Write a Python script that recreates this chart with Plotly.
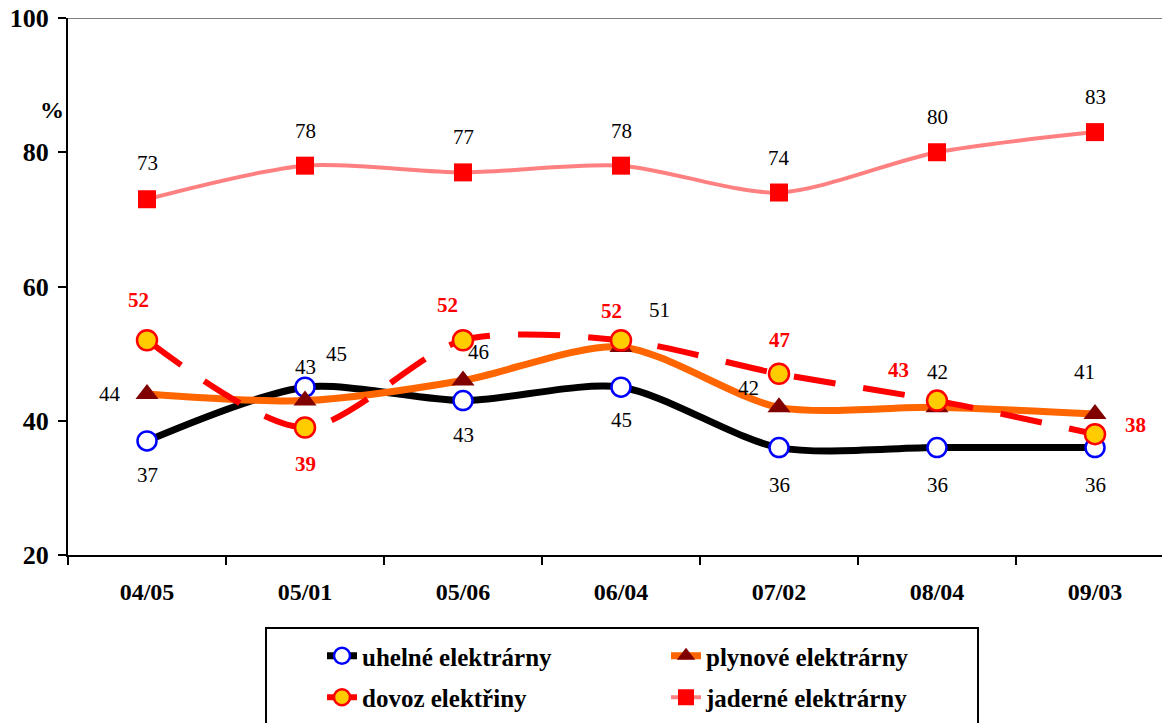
import plotly.graph_objects as go

categories = ["04/05", "05/01", "05/06", "06/04", "07/02", "08/04", "09/03"]
uhelne = [37, 45, 43, 45, 36, 36, 36]
plynove = [44, 43, 46, 51, 42, 42, 41]
dovoz = [52, 39, 52, 52, 47, 43, 38]
jaderne = [73, 78, 77, 78, 74, 80, 83]
y_ticks = [20, 40, 60, 80, 100]

# label offsets (px) for each point: (xshift, yshift)
off_uhelne = [(0, -34), (31, 33), (0, -34), (0, -33), (0, -37), (0, -37), (0, -37)]
off_plynove = [(-37, 0), (0, 34), (15, 28), (38, 37), (-31, 19), (0, 35), (-11, 42)]
off_dovoz = [(-9, 40), (0, -37), (-16, 35), (-10, 29), (0, 34), (-39, 31), (40, 9)]
off_jaderne = [(0, 36), (0, 35), (0, 35), (0, 35), (0, 35), (0, 35), (0, 35)]

FONT = "Times New Roman, Liberation Serif, serif"

fig = go.Figure()

fig.add_trace(go.Scatter(
    x=categories, y=uhelne, name="uhelné elektrárny", mode="lines+markers",
    line=dict(color="#000000", width=7, shape="spline", smoothing=0.8),
    marker=dict(symbol="circle", size=19, color="#FFFFFF", line=dict(color="#0000FF", width=2.5)),
    legend="legend", legendgroup="a"))
fig.add_trace(go.Scatter(
    x=categories, y=plynove, name="plynové elektrárny", mode="lines+markers",
    line=dict(color="#FF6600", width=7, shape="spline", smoothing=0.8),
    marker=dict(symbol="triangle-up", size=20, color="#800000", line=dict(width=0)),
    legend="legend2", legendgroup="b"))
fig.add_trace(go.Scatter(
    x=categories, y=dovoz, name="dovoz elektřiny", mode="lines+markers",
    line=dict(color="#FF0000", width=6, shape="spline", smoothing=0.8, dash="42px,28px"),
    marker=dict(symbol="circle", size=20, color="#FFCC00", line=dict(color="#FF0000", width=2.5)),
    legend="legend", legendgroup="c"))
fig.add_trace(go.Scatter(
    x=categories, y=jaderne, name="jaderné elektrárny", mode="lines+markers",
    line=dict(color="#FF8080", width=4, shape="spline", smoothing=0.8),
    marker=dict(symbol="square", size=18, color="#FF0000", line=dict(width=0)),
    legend="legend2", legendgroup="d"))

def add_labels(values, offsets, color, bold):
    for c, v, (dx, dy) in zip(categories, values, offsets):
        txt = f"<b>{v}</b>" if bold else str(v)
        fig.add_annotation(x=c, y=v, text=txt, showarrow=False, xshift=dx, yshift=dy,
                           font=dict(family=FONT, size=21, color=color))

add_labels(uhelne, off_uhelne, "#000000", False)
add_labels(plynove, off_plynove, "#000000", False)
add_labels(dovoz, off_dovoz, "#FF0000", True)
add_labels(jaderne, off_jaderne, "#000000", False)

# % label
fig.add_annotation(xref="paper", yref="paper", x=-0.0274, y=0.8566, text="<b>%</b>",
                   showarrow=False, font=dict(family=FONT, size=24, color="#000000"))

# top border line at 100
fig.add_shape(type="line", xref="paper", yref="y", x0=0, x1=1, y0=100, y1=100,
              line=dict(color="#808080", width=2))

# legend box
fig.add_shape(type="rect", xref="paper", yref="paper",
              x0=(266 - 68) / 1094, x1=(978 - 68) / 1094,
              y0=(555 - 740) / 537, y1=(555 - 628) / 537,
              line=dict(color="#000000", width=2), fillcolor="rgba(0,0,0,0)")

legend_common = dict(orientation="v", yanchor="top", xanchor="left",
                     font=dict(family=FONT, size=25, color="#000000", weight="bold"),
                     bgcolor="rgba(0,0,0,0)", borderwidth=0, tracegroupgap=6,
                     itemclick=False)

fig.update_layout(
    width=1162, height=723,
    margin=dict(l=68, r=0, t=18, b=168),
    paper_bgcolor="#FFFFFF", plot_bgcolor="#FFFFFF",
    showlegend=True,
    legend=dict(x=(322 - 68) / 1094, y=(555 - 633) / 537, **legend_common),
    legend2=dict(x=(666 - 68) / 1094, y=(555 - 633) / 537, **legend_common),
    xaxis=dict(
        type="category", categoryorder="array", categoryarray=categories,
        range=[-0.5, 6.424], showgrid=False, zeroline=False,
        showline=True, linecolor="#000000", linewidth=2,
        ticks="outside", tickson="boundaries", ticklen=8, tickwidth=2, tickcolor="#000000",
        tickfont=dict(family=FONT, size=24, color="#000000", weight="bold"),
        ticklabelstandoff=14,
    ),
    yaxis=dict(
        range=[20, 100], tickvals=y_ticks,
        showgrid=False, zeroline=False,
        showline=True, linecolor="#000000", linewidth=2,
        ticks="outside", ticklen=8, tickwidth=2, tickcolor="#000000",
        tickfont=dict(family=FONT, size=26, color="#000000", weight="bold"),
        ticklabelstandoff=4,
    ),
)

fig.write_html("out.html", config={"displayModeBar": False},
               post_script="document.body.style.margin='0';document.body.style.padding='0';")
